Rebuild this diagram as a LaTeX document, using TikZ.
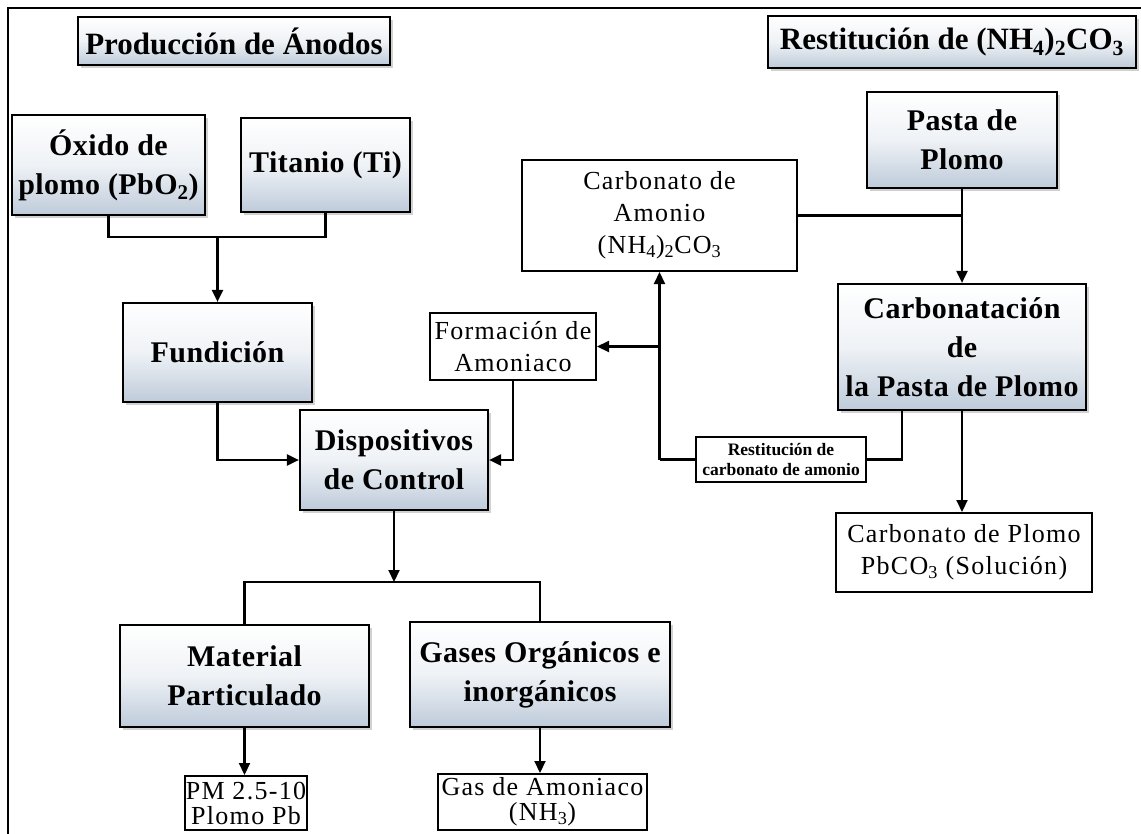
\documentclass[tikz,border=0pt]{standalone}
\usepackage{fontspec}
\setmainfont{Liberation Serif}
\newfontfamily\spacedfont[LetterSpace=5]{Liberation Serif}
\newfontfamily\slightfont[LetterSpace=1.5]{Liberation Serif}
\usetikzlibrary{arrows.meta,shadows,calc}
\definecolor{boxblue}{RGB}{190,203,218}
\newcommand\mytitle{\bfseries\fontsize{31}{36}\selectfont}
\newcommand\mybold{\slightfont\bfseries\fontsize{30}{39}\selectfont}
\newcommand\myreg{\spacedfont\fontsize{26}{32}\selectfont}
\newcommand\mylow{\spacedfont\fontsize{26}{25}\selectfont}
\newcommand\mysmall{\bfseries\fontsize{17.5}{20}\selectfont}
\begin{document}
\begin{tikzpicture}[x=1pt,y=-1pt,
  conn/.style={line width=2.1pt, draw=black},
  arr/.style={conn, -{Triangle[length=12pt,width=11pt]}},
  bbox/.style={draw=black, line width=2.2pt, top color=white, bottom color=boxblue, middle color=white!75!boxblue,
    drop shadow={shadow xshift=3pt, shadow yshift=-3pt, fill=black!30, opacity=0.6},
    align=center, inner sep=2pt, font=\mybold},
  tbox/.style={bbox, font=\mytitle},
  rbox/.style={draw=black, line width=2pt, fill=white, align=center, inner sep=1pt, font=\myreg},
  lbox/.style={rbox, font=\mylow},
  sbox/.style={rbox, font=\mysmall},
]
\useasboundingbox (0,0) rectangle (1141,833);
\draw[line width=2pt] (8,840) -- (8,8) -- (1150,8);

% titles
\node[tbox, minimum width=312pt, minimum height=48pt] (tl) at (234,41) {Producción de Ánodos};
\node[tbox, minimum width=368pt, minimum height=52pt] (tr) at (952,42) {Restitución de (NH\textsubscript{4})\textsubscript{2}CO\textsubscript{3}};

% left column
\node[bbox, minimum width=193pt, minimum height=100pt] (ox) at (108.5,165) {Óxido de\\plomo (PbO\textsubscript{2})};
\node[bbox, minimum width=169pt, minimum height=94pt] (ti) at (325.5,165) {Titanio (Ti)};
\node[bbox, minimum width=189pt, minimum height=99pt] (fu) at (217.5,352.5) {Fundición};
\node[bbox, minimum width=188pt, minimum height=100pt] (di) at (394,460) {Dispositivos\\de Control};
\node[rbox, minimum width=166pt, minimum height=67pt] (fo) at (513,346.5) {Formación de\\Amoniaco};
\node[bbox, minimum width=249pt, minimum height=102pt] (ma) at (244.5,676) {Material\\Particulado};
\node[bbox, minimum width=260pt, minimum height=105pt] (ga) at (540,674.5) {Gases Orgánicos e\\inorgánicos};
\node[lbox, minimum width=122pt, minimum height=54pt] (pm) at (246,803) {PM 2.5-10\\Plomo Pb};
\node[lbox, minimum width=209pt, minimum height=56pt] (gm) at (542.5,802) {Gas de Amoniaco\\(NH\textsubscript{3})};

% right column
\node[rbox, minimum width=275pt, minimum height=111pt] (cb) at (659.5,215.5) {Carbonato de\\Amonio\\(NH\textsubscript{4})\textsubscript{2}CO\textsubscript{3}};
\node[bbox, minimum width=190pt, minimum height=96pt] (pa) at (962,140) {Pasta de\\Plomo};
\node[bbox, minimum width=248pt, minimum height=126pt] (ca) at (962,347) {Carbonatación\\de\\la Pasta de Plomo};
\node[sbox, minimum width=170pt, minimum height=45pt] (re) at (781,459.5) {Restitución de\\carbonato de amonio};
\node[rbox, minimum width=256pt, minimum height=79pt] (cp) at (964,552.5) {Carbonato de Plomo\\PbCO\textsubscript{3} (Solución)};

% connectors left
\coordinate (tj) at (217.5,237);
\draw[conn] (ox.south) |- (tj) -| (ti.south);
\draw[arr] (tj) -- (fu.north);
\draw[arr] (fu.south) |- (di.west);
\draw[arr] (fo.south) |- (di.east);
\coordinate (sp) at (394,582);
\draw[arr] (di.south) -- (sp);
\draw[conn] (ma.north) |- (sp) -| (ga.north);
\draw[arr] (ma.south) -- (ma.south |- pm.north);
\draw[arr] (ga.south) -- (ga.south |- gm.north);

% connectors right
\draw[arr] (pa.south) -- (ca.north);
\draw[conn] (cb.east) -- (cb.east -| pa.south);
\draw[arr] (ca.south) -- (ca.south |- cp.north);
\coordinate (cx) at ($(ca.south)+(-60,0)$);
\draw[conn] (cx) |- (re.east);
\coordinate (lv) at (cb.south |- re.west);
\draw[conn] (re.west) -- (lv);
\draw[arr] (lv) -- (cb.south);
\draw[arr] (cb.south |- fo.east) -- (fo.east);
\end{tikzpicture}
\end{document}
